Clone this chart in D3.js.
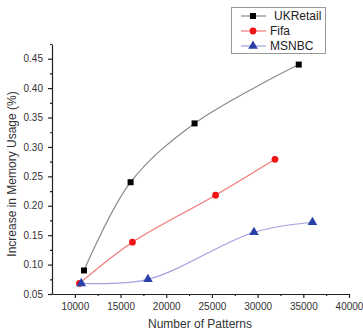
<!DOCTYPE html>
<html>
<head>
<meta charset="utf-8">
<script src="https://cdn.jsdelivr.net/npm/d3@7"></script>
<style>
  body { margin: 0; background: #fff; }
  svg { display: block; font-family: Arial, "Liberation Sans", sans-serif; }
</style>
</head>
<body>
<svg id="chart" width="363" height="333"></svg>
<script>
// Values
const seriesNames = ['UKRetail', 'Fifa', 'MSNBC'];
const ukRetailX = [11000, 16100, 23100, 34500];
const ukRetailY = [0.09, 0.24, 0.34, 0.44];
const fifaX = [10500, 16300, 25400, 31900];
const fifaY = [0.068, 0.138, 0.218, 0.279];
const msnbcX = [10700, 18000, 29600, 36000];
const msnbcY = [0.068, 0.075, 0.155, 0.172];
const xTicks = [10000, 15000, 20000, 25000, 30000, 35000, 40000];
const yTicks = [0.05, 0.10, 0.15, 0.20, 0.25, 0.30, 0.35, 0.40, 0.45];

const svg = d3.select('#chart');
const margin = { left: 52, right: 14, top: 44, bottom: 39 };
const width = 363, height = 333;

const x = d3.scaleLinear().domain([7500, 40000]).range([margin.left, width - margin.right]);
const y = d3.scaleLinear().domain([0.05, 0.475]).range([height - margin.bottom, margin.top]);

const series = [
    { name: seriesNames[0], xs: ukRetailX, ys: ukRetailY, line: '#8a8a8a', fill: '#000', shape: d3.symbolSquare },
    { name: seriesNames[1], xs: fifaX, ys: fifaY, line: '#f07878', fill: '#f01414', shape: d3.symbolCircle },
    { name: seriesNames[2], xs: msnbcX, ys: msnbcY, line: '#a0a0e0', fill: '#2b3fa8', shape: d3.symbolTriangle }
];

// axes
const xAxis = svg.append('g').attr('transform', `translate(0,${y.range()[0]})`)
    .call(d3.axisBottom(x).tickValues(xTicks).tickFormat(d3.format('d')).tickSize(4).tickSizeOuter(0));
svg.append('g').attr('transform', `translate(0,${y.range()[0]})`)
    .call(d3.axisBottom(x).tickValues(d3.range(12500, 40000, 5000)).tickFormat('').tickSize(2).tickSizeOuter(0))
    .select('.domain').remove();

const yAxis = svg.append('g').attr('transform', `translate(${x.range()[0]},0)`)
    .call(d3.axisLeft(y).tickValues(yTicks).tickFormat(d3.format('.2f')).tickSize(4).tickSizeOuter(0));
svg.append('g').attr('transform', `translate(${x.range()[0]},0)`)
    .call(d3.axisLeft(y).tickValues(d3.range(0.075, 0.48, 0.05)).tickFormat('').tickSize(2).tickSizeOuter(0))
    .select('.domain').remove();

svg.selectAll('.tick line, .domain').attr('stroke', '#222').attr('stroke-width', 1.2);
xAxis.selectAll('text').attr('font-size', 10).attr('fill', '#333').attr('dy', '0.9em');
yAxis.selectAll('text').attr('font-size', 10).attr('fill', '#333').attr('dx', '-0.2em');

// axis titles
svg.append('text').attr('x', 200).attr('y', 328).attr('text-anchor', 'middle')
    .attr('font-size', 12).attr('fill', '#333').text('Number of Patterns');
svg.append('text').attr('transform', 'translate(16,174) rotate(-90)').attr('text-anchor', 'middle')
    .attr('font-size', 12).attr('fill', '#333').text('Increase in Memory Usage (%)');

// lines and markers
const line = d3.line().curve(d3.curveCatmullRom.alpha(0.5)).x((d) => x(d[0])).y((d) => y(d[1]));
const symbol = d3.symbol().size(36);

series.forEach((s) => {
    const pts = s.xs.map((v, i) => [v, s.ys[i]]);
    svg.append('path').datum(pts).attr('d', line)
        .attr('fill', 'none').attr('stroke', s.line).attr('stroke-width', 1.2);
    svg.selectAll(null).data(pts).enter().append('path')
        .attr('transform', (d) => `translate(${x(d[0])},${y(d[1])})`)
        .attr('d', symbol.type(s.shape).size(s.shape === d3.symbolTriangle ? 40 : 36))
        .attr('fill', s.fill);
});

// legend
const legend = svg.append('g');
legend.append('rect').attr('x', 231.5).attr('y', 7.5).attr('width', 94).attr('height', 46)
    .attr('fill', '#fff').attr('stroke', '#999').attr('stroke-width', 1);
series.forEach((s, i) => {
    const ly = 16 + i * 15;
    legend.append('line').attr('x1', 241).attr('x2', 266).attr('y1', ly).attr('y2', ly)
        .attr('stroke', s.line).attr('stroke-width', 1.2);
    legend.append('path').attr('transform', `translate(253,${ly})`)
        .attr('d', symbol.type(s.shape).size(s.shape === d3.symbolTriangle ? 40 : 36)).attr('fill', s.fill);
    legend.append('text').attr('x', i === 0 ? 274 : 270).attr('y', ly).attr('dy', '0.35em')
        .attr('font-size', 12).attr('fill', '#222').text(s.name);
});
</script>
</body>
</html>
